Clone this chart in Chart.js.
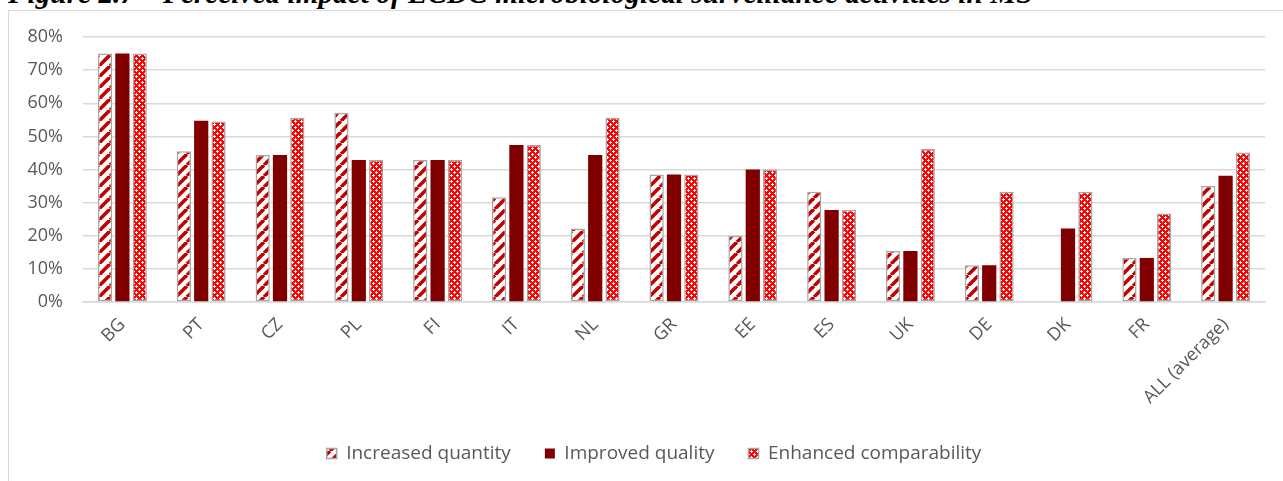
<!DOCTYPE html>
<html>
<head>
<meta charset="utf-8">
<script src="https://cdn.jsdelivr.net/npm/chart.js@4.4.1/dist/chart.umd.min.js"></script>
<style>
  html, body { margin: 0; padding: 0; background: #fff; overflow: hidden; }
  #frame { position: absolute; left: 8px; top: 10px; width: 1400px; height: 600px; border: 1px solid #d9d9d9; box-sizing: border-box; }
  #wrap { position: absolute; left: 0; top: 0; width: 1283px; height: 481px; }
  .ttl { position: absolute; font-family: "Liberation Serif", "Times New Roman", serif; font-weight: bold; font-style: italic; white-space: nowrap; color: #000; }
</style>
</head>
<body>
<div id="frame"></div>
<span id="t1" class="ttl">Figure 2.7 –</span>
<span id="t2" class="ttl">Perceived impact of ECDC microbiological surveillance activities in MS</span>
<div id="wrap"><canvas id="c" width="1283" height="481"></canvas></div>
<script>
// ---- data ----
const categories = ["BG", "PT", "CZ", "PL", "FI", "IT", "NL", "GR", "EE", "ES", "UK", "DE", "DK", "FR", "ALL (average)"];
const increasedQuantity     = [75, 45.5, 44.4, 57.1, 42.9, 31.6, 22.2, 38.5, 20, 33.3, 15.4, 11.1, 0, 13.3, 35];
const improvedQuality       = [75, 54.7, 44.4, 42.9, 42.9, 47.4, 44.4, 38.5, 40, 27.8, 15.4, 11.1, 22.2, 13.3, 38.1];
const enhancedComparability = [75, 54.5, 55.6, 42.9, 42.9, 47.4, 55.6, 38.5, 40, 27.8, 46.2, 33.3, 33.3, 26.7, 45.1];
const seriesNames = ["Increased quantity", "Improved quality", "Enhanced comparability"];
const yTicks = [0, 10, 20, 30, 40, 50, 60, 70, 80];

// ---- title sizing ----
(function () {
  const m = document.createElement('canvas').getContext('2d');
  m.font = 'italic bold 100px "Liberation Serif"';
  const w = m.measureText("Perceived impact of ECDC microbiological surveillance activities in MS").width;
  const S = 100 * 870 / w;
  const baseline = 4;
  const top = baseline - 0.8375 * S;
  for (const id of ["t1", "t2"]) {
    const el = document.getElementById(id);
    el.style.fontSize = S + 'px';
    el.style.lineHeight = S + 'px';
    el.style.top = top + 'px';
  }
  document.getElementById('t1').style.left = '8px';
  document.getElementById('t2').style.left = '163px';
})();

// ---- patterns ----
function stripePattern() {
  const s = 11;
  const cv = document.createElement('canvas');
  cv.width = s; cv.height = s;
  const g = cv.getContext('2d');
  g.fillStyle = '#ffffff'; g.fillRect(0, 0, s, s);
  g.strokeStyle = '#c00000'; g.lineWidth = 3.6;
  for (const off of [-s, 0, s]) {
    g.beginPath(); g.moveTo(off, s); g.lineTo(off + s, 0); g.stroke();
  }
  return g.createPattern(cv, 'repeat');
}
function checkPattern() {
  const s = 6;
  const cv = document.createElement('canvas');
  cv.width = s; cv.height = s;
  const g = cv.getContext('2d');
  g.fillStyle = '#ff0000'; g.fillRect(0, 0, s, s);
  g.fillStyle = '#ffffff';
  const pts = [[1,0],[0,1],[1,1],[2,1],[1,2],[4,3],[3,4],[4,4],[5,4],[4,5]];
  for (const [x, y] of pts) g.fillRect(x, y, 1, 1);
  return g.createPattern(cv, 'repeat');
}

const axisFont = { family: '"Open Sans", sans-serif', size: 18 };
const legendFont = { family: '"Open Sans", sans-serif', size: 19 };
const grey = '#595959';
const ctx = document.getElementById('c').getContext('2d');

const legendShift = {
  id: 'legendShift',
  afterLayout(chart) {
    const lg = chart.legend;
    if (lg) { lg.left += 19; lg.right += 19; }
  }
};

new Chart(ctx, {
  type: 'bar',
  data: {
    labels: categories,
    datasets: [
      { label: seriesNames[0], data: increasedQuantity, backgroundColor: stripePattern(), borderColor: '#a6a6a6', borderWidth: 1.5, borderSkipped: false },
      { label: seriesNames[1], data: improvedQuality, backgroundColor: '#800000', borderColor: '#800000', borderWidth: 0, borderSkipped: false },
      { label: seriesNames[2], data: enhancedComparability, backgroundColor: checkPattern(), borderColor: '#a6a6a6', borderWidth: 1.5, borderSkipped: false }
    ]
  },
  plugins: [legendShift],
  options: {
    responsive: false,
    animation: false,
    devicePixelRatio: 1,
    layout: { padding: { left: 5, right: 18, top: 37, bottom: 8 } },
    datasets: { bar: { categoryPercentage: 0.66, barPercentage: 0.82 } },
    plugins: {
      legend: {
        position: 'bottom',
        labels: { font: legendFont, color: grey, boxWidth: 10, boxHeight: 10, padding: 34 }
      },
      tooltip: { enabled: false }
    },
    scales: {
      x: {
        grid: { display: false, drawTicks: false },
        border: { display: true, color: '#d9d9d9', width: 1.5 },
        ticks: { font: axisFont, color: grey, minRotation: 45, maxRotation: 45, padding: 12, autoSkip: false },
        afterFit: (s) => { s.height = 108; }
      },
      y: {
        min: 0, max: 80,
        afterBuildTicks: (s) => { s.ticks = yTicks.map(v => ({ value: v })); },
        grid: { color: '#d9d9d9', lineWidth: 1.5, drawTicks: false },
        border: { display: false },
        ticks: { font: axisFont, color: grey, padding: 20, callback: (v) => v + '%' },
        afterFit: (s) => { s.width = 78; }
      }
    }
  }
});
</script>
</body>
</html>
